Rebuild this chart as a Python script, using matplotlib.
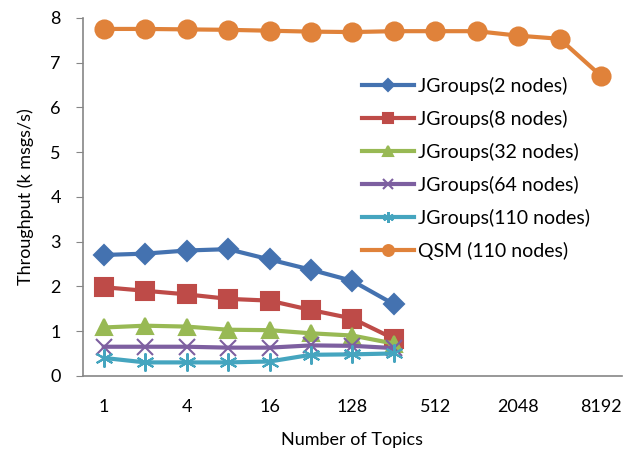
import matplotlib
matplotlib.use("Agg")
import matplotlib.pyplot as plt

plt.rcParams["font.family"] = ["Lato", "DejaVu Sans"]

topics = ["1", "2", "4", "8", "16", "64", "128", "256", "512", "1024", "2048", "4096", "8192"]
jg2 = [2.70, 2.73, 2.80, 2.83, 2.60, 2.37, 2.12, 1.60]
jg8 = [1.98, 1.90, 1.82, 1.72, 1.68, 1.47, 1.28, 0.83]
jg32 = [1.08, 1.12, 1.10, 1.03, 1.02, 0.95, 0.90, 0.72]
jg64 = [0.65, 0.65, 0.65, 0.63, 0.63, 0.68, 0.67, 0.62]
jg110 = [0.40, 0.30, 0.30, 0.30, 0.32, 0.47, 0.48, 0.50]
qsm = [7.75, 7.75, 7.74, 7.73, 7.71, 7.69, 7.68, 7.70, 7.70, 7.70, 7.60, 7.53, 6.70]

series = [
    ("JGroups(2 nodes)", jg2, "#4472B0", "D", 10.5),
    ("JGroups(8 nodes)", jg8, "#BE4B48", "s", 12.5),
    ("JGroups(32 nodes)", jg32, "#98B954", "^", 12),
    ("JGroups(64 nodes)", jg64, "#7D5FA0", "x", 11),
    ("JGroups(110 nodes)", jg110, "#45A5BF", (6, 2, 0), 13),
    ("QSM (110 nodes)", qsm, "#E0823A", "o", 13),
]

fig = plt.figure(figsize=(6.39, 4.55), dpi=100)
ax = fig.add_axes([0.130, 0.174, 0.843, 0.787])

for name, vals, col, mk, ms in series:
    ax.plot(range(len(vals)), vals, color=col, lw=3.0, marker=mk, ms=ms,
            mew=1.5, mec=col, mfc=col, label=name)

ax.set_xlim(-0.5, len(topics) - 0.5)
ax.set_ylim(0, 8)
ax.set_xticks(range(0, len(topics), 2))
ax.set_xticklabels(topics[::2])
ax.set_yticks(range(0, 9))
ax.tick_params(axis="x", length=0, pad=17, labelsize=13)
ax.tick_params(axis="y", length=5, color="#868686", labelsize=13, pad=11)
for s in ("top", "right"):
    ax.spines[s].set_visible(False)
for s in ("left", "bottom"):
    ax.spines[s].set_color("#868686")
    ax.spines[s].set_linewidth(1.2)

ax.set_xlabel("Number of Topics", fontsize=13, labelpad=12)
ax.set_ylabel("Throughput (k msgs/s)", fontsize=13, labelpad=12)

leg = ax.legend(loc="upper left", bbox_to_anchor=(0.5665, 0.831),
                bbox_transform=fig.transFigure, frameon=False,
                fontsize=14, handlelength=2.7, labelspacing=0.77,
                handletextpad=0.2, borderpad=0, borderaxespad=0,
                markerscale=0.6)

fig.savefig("out.png", dpi=100)
